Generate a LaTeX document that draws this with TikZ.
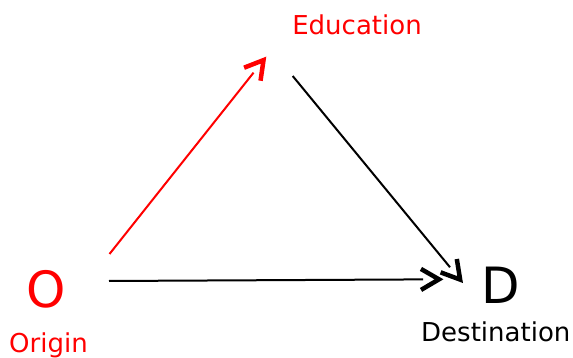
\documentclass[tikz,border=0pt]{standalone}
\usepackage{fontspec}
\setmainfont{DejaVu Sans}
\usetikzlibrary{decorations.markings}

\tikzset{
  caption/.style={font=\fontsize{26}{30}\selectfont, anchor=base, inner sep=0pt},
  letter/.style={font=\fontsize{50}{56}\selectfont, anchor=base, inner sep=0pt},
  % shaft stops at the back of an open V head drawn with heavier strokes
  link/.style={line width=2pt, draw=#1, shorten >=20pt, postaction={decorate},
    decoration={markings, mark=at position 1 with {
      \draw[#1, line width=4.5pt, line join=miter, line cap=butt,
            shorten >=0pt, shorten <=0pt] (-22,10.5) -- (-4,0) -- (-22,-10.5);}}},
}

\begin{document}
\begin{tikzpicture}[x=1pt, y=-1pt]
  \useasboundingbox (0,0) rectangle (573,358);

  % variables
  \node[letter, text=red] (O) at (46,307.5) {O};
  \node[caption, text=red] (Orig) at (48.5,352) {Origin};
  \node[letter] (D) at (500.5,303) {D};
  \node[caption] (Dest) at (495.8,341.7) {Destination};
  \node[caption, text=red] (Ed) at (357,34.3) {Education};

  % connector ends
  \coordinate (O-up) at (109.5,254);
  \coordinate (O-right) at (109,281);
  \coordinate (Ed-in) at (266,57);
  \coordinate (Ed-out) at (292.7,76);
  \coordinate (D-left) at (443,279.3);
  \coordinate (D-top) at (462.7,282.7);

  % paths
  \draw[link=red] (O-up) -- (Ed-in);
  \draw[link=black] (O-right) -- (D-left);
  \draw[link=black] (Ed-out) -- (D-top);
\end{tikzpicture}
\end{document}
